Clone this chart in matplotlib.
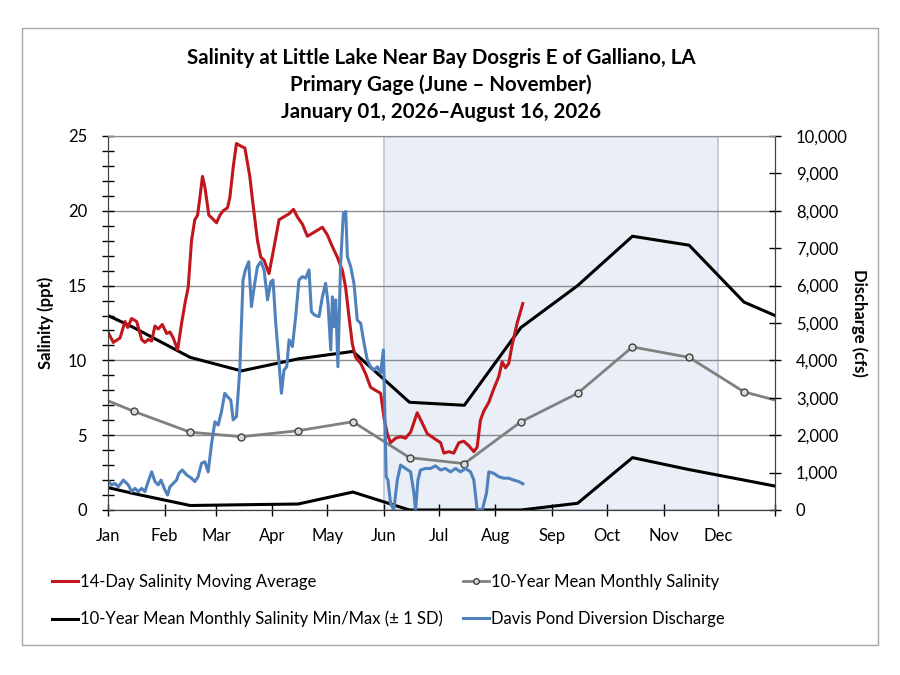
import matplotlib.pyplot as plt
from matplotlib.patches import Rectangle
from matplotlib.ticker import MultipleLocator, FuncFormatter
from matplotlib.lines import Line2D

plt.rcParams["font.family"] = ["Lato", "DejaVu Sans"]

# Month axis (day of year, 2026)
month_labels = ["Jan", "Feb", "Mar", "Apr", "May", "Jun",
                "Jul", "Aug", "Sep", "Oct", "Nov", "Dec"]
month_starts = [0, 31, 59, 90, 120, 151, 181, 212, 243, 273, 304, 334]
year_end = 365

# 10-year monthly statistics (Jan 1, mid-months, Dec 31)
stat_days = [0, 14, 45, 73, 104, 134, 165, 195, 226, 257, 287, 318, 348, 365]
mean_salinity = [7.3, 6.6, 5.2, 4.9, 5.3, 5.9, 3.5, 3.1, 5.9, 7.8, 10.9, 10.2, 7.9, 7.35]
max_salinity = [13.0, 12.2, 10.2, 9.3, 10.1, 10.6, 7.2, 7.0, 12.2, 15.0, 18.3, 17.7, 13.9, 13.0]
min_salinity = [1.5, 1.1, 0.3, 0.35, 0.4, 1.2, 0.0, 0.0, 0.0, 0.45, 3.5, 2.7, 2.0, 1.6]

# 14-day salinity moving average (ppt)
sal_days = [0, 2.9, 6.6, 9.3, 10.8, 12.9, 15.7, 18.4, 20.2, 22.0, 23.9, 25.7, 27.5,
            29.7, 32.1, 33.9, 35.7, 38.1, 40.3, 42.1, 43.9, 45.7, 47.5, 49.0, 50.3,
            51.7, 53.0, 55.2, 57.0, 59.4, 61.2, 63.0, 65.4, 66.7, 68.5, 70.3, 73.1,
            74.9, 77.6, 79.0, 80.5, 81.8, 83.6, 85.4, 88.1, 90.9, 93.6, 96.3, 99.1,
            101.5, 103.6, 106.4, 109.1, 111.9, 114.6, 117.3, 120.0, 122.8, 125.5,
            128.3, 130.0, 131.9, 133.7, 135.5, 138.3, 141.0, 143.7, 146.4, 149.2,
            151.0, 152.8, 154.6, 157.4, 160.1, 162.8, 165.6, 169.2, 172.0, 174.7,
            178.3, 182.0, 183.8, 186.5, 189.2, 192.0, 194.7, 197.4, 200.2, 202.0,
            203.8, 205.6, 208.4, 211.1, 213.8, 215.7, 217.5, 219.3, 221.1, 223.9, 227.0]
salinity = [11.9, 11.2, 11.5, 12.6, 12.2, 12.8, 12.6, 11.4, 11.2, 11.4, 11.3, 12.3, 12.1,
            12.4, 11.8, 11.9, 11.5, 10.7, 12.5, 13.8, 14.9, 18.0, 19.4, 19.7, 20.9,
            22.3, 21.6, 19.7, 19.5, 19.2, 19.7, 20.0, 20.2, 20.9, 22.9, 24.5, 24.3,
            24.2, 22.3, 20.8, 19.3, 18.0, 16.9, 16.7, 15.8, 17.6, 19.4, 19.6, 19.8,
            20.1, 19.6, 19.1, 18.3, 18.5, 18.7, 18.9, 18.4, 17.6, 16.9,
            16.0, 14.9, 12.9, 11.1, 10.2, 9.8, 9.1, 8.2, 8.0, 7.8,
            6.2, 5.1, 4.5, 4.8, 4.9, 4.8, 5.2, 6.5, 5.8, 5.1,
            4.8, 4.5, 3.8, 3.9, 3.8, 4.5, 4.6, 4.3, 3.9, 4.2,
            6.0, 6.6, 7.2, 8.1, 8.9, 9.9, 9.5, 9.8, 11.0, 12.5, 13.8]

# Davis Pond diversion discharge (cfs)
q_days = [0.2, 2.0, 3.8, 5.6, 8.4, 11.1, 13.0, 14.8, 16.6, 18.4, 20.2, 22.0, 23.9,
          25.7, 27.5, 29.0, 31.1, 32.6, 33.9, 35.7, 37.5, 38.8, 40.6, 43.0, 45.7,
          47.5, 49.3, 51.2, 53.0, 54.8, 56.7, 58.5, 60.3, 62.1, 63.9, 65.4, 67.2,
          68.5, 70.3, 72.1, 73.9, 75.2, 77.0, 78.5, 80.3, 81.8, 83.6, 85.4, 87.3,
          89.1, 90.3, 91.8, 93.6, 94.9, 96.3, 97.8, 99.1, 100.9, 102.7, 104.5,
          106.4, 108.2, 110.0, 111.3, 113.1, 115.5, 117.3, 119.1, 120.4, 121.9,
          122.8, 123.7, 124.6, 125.8, 127.3, 128.8, 130.1, 131.0, 132.8, 134.6,
          136.4, 138.3, 140.1, 141.9, 143.7, 145.5, 147.4, 149.2, 150.7, 151.5,
          152.2, 153.2, 154.6, 156.4, 158.3, 160.1, 162.8, 165.6, 167.4, 168.3,
          169.6, 171.0, 173.8, 176.5, 179.2, 182.0, 184.7, 187.4, 190.2, 192.9,
          195.6, 198.4, 200.2, 202.0, 204.8, 207.1, 208.4, 211.1, 213.8, 216.6,
          219.3, 222.0, 224.8, 227.0]
discharge = [760, 670, 710, 620, 800, 670, 490, 580, 490, 580, 490, 760, 1020,
             760, 670, 800, 540, 400, 620, 710, 800, 980, 1070, 940, 850,
             760, 890, 1250, 1290, 1020, 1780, 2360, 2270, 2630, 3120, 3030, 2940,
             2410, 2500, 3740, 6150, 6420, 6640, 5440, 6060, 6510, 6640, 6420, 5620,
             6100, 6150, 4990, 3920, 3120, 3740, 3830, 4550, 4370, 5170, 6150,
             6240, 6200, 6420, 5300, 5210, 5170, 5700, 6060, 5530, 4280,
             5700, 4900, 5620, 3830, 6600, 7930, 7980, 6770, 6510, 6060,
             5080, 4990, 4460, 4010, 3830, 3740, 3830, 3660, 4280, 2590,
             890, 800, 180, 0, 800, 1200, 1110, 1020, 450, 0,
             800, 1070, 1110, 1110, 1180, 1070, 1110, 1020, 1110, 1020,
             1110, 1020, 800, 0, 0, 450, 1020, 980, 890, 850,
             850, 800, 760, 700]

# Primary gage season (Jun 1 - Dec 1)
season_start = 151
season_end = 334

fig = plt.figure(figsize=(9, 6.75), dpi=100)
ax = fig.add_axes([108 / 900, 1 - 510 / 675, 667 / 900, 374 / 675])
ax2 = ax.twinx()

# Shaded season
ax.axvspan(season_start, season_end, facecolor="#e9eef7", edgecolor="#b9c6d9",
           linewidth=1.2, zorder=0)

# Salinity lines
ax.plot(stat_days, max_salinity, color="black", lw=2.2, zorder=3)
ax.plot(stat_days, min_salinity, color="black", lw=2.2, zorder=3)
ax.plot(stat_days, mean_salinity, color="#808080", lw=2.0, zorder=3,
        marker="o", markevery=list(range(1, 13)), markersize=5,
        markerfacecolor="#d9d9d9", markeredgecolor="#404040", markeredgewidth=1)
ax.plot(sal_days, salinity, color="#c0161c", lw=2.2, zorder=4)

# Discharge line
ax2.plot(q_days, discharge, color="#4f81bd", lw=2.2)

ax.set_xlim(0, year_end)
ax.set_ylim(0, 25)
ax2.set_ylim(0, 10000)

ax.set_xticks(month_starts + [year_end])
ax.set_xticklabels(month_labels + [""])
ax.yaxis.set_major_locator(MultipleLocator(5))
ax.yaxis.set_minor_locator(MultipleLocator(1))
ax2.yaxis.set_major_locator(MultipleLocator(1000))
ax2.yaxis.set_major_formatter(FuncFormatter(lambda v, p: f"{int(v):,}"))

ax.grid(axis="y", color="#8c8c8c", lw=1)
ax.set_axisbelow(True)

ax.tick_params(axis="x", direction="inout", length=8, width=1, labelsize=12, pad=9)
ax.tick_params(axis="y", which="both", direction="inout", length=8, width=1,
               labelsize=12, pad=11)
ax2.tick_params(axis="y", direction="inout", length=8, width=1, labelsize=12, pad=11)

for a in (ax, ax2):
    a.spines["top"].set_color("#8c8c8c")
    a.spines["left"].set_color("#404040")
    a.spines["right"].set_color("#404040")
    a.spines["bottom"].set_color("#404040")

ax.set_ylabel("Salinity (ppt)", fontsize=12, fontweight="bold", labelpad=10)
ax2.set_ylabel("Discharge (cfs)", fontsize=12, fontweight="bold", rotation=270,
               labelpad=14)

# Title
title_lines = ["Salinity at Little Lake Near Bay Dosgris E of Galliano, LA",
               "Primary Gage (June \u2013 November)",
               "January 01, 2026\u2013August 16, 2026"]
for i, line in enumerate(title_lines):
    fig.text(441 / 900, 1 - (58 + 27 * i) / 675, line, ha="center", va="center",
             fontsize=14.8, fontweight="bold")

# Legends
h_red = Line2D([], [], color="#c0161c", lw=2.2)
h_black = Line2D([], [], color="black", lw=2.2)
h_gray = Line2D([], [], color="#808080", lw=2.0, marker="o", markersize=4,
                markerfacecolor="#d9d9d9", markeredgecolor="#404040")
h_blue = Line2D([], [], color="#4f81bd", lw=2.2)

leg_kw = dict(frameon=False, fontsize=12, handlelength=1.55, handletextpad=0.12,
              labelspacing=1.25, borderpad=0, borderaxespad=0, loc="upper left")
leg1 = fig.legend([h_red, h_black],
                  ["14-Day Salinity Moving Average",
                   "10-Year Mean Monthly Salinity Min/Max (\u00b1 1 SD)"],
                  bbox_to_anchor=(52 / 900, 1 - 574 / 675), **leg_kw)
leg2 = fig.legend([h_gray, h_blue],
                  ["10-Year Mean Monthly Salinity",
                   "Davis Pond Diversion Discharge"],
                  bbox_to_anchor=(463 / 900, 1 - 574 / 675), **leg_kw)

# Outer border
fig.patches.append(Rectangle((22 / 900, 1 - 645 / 675), 856 / 900, 617 / 675,
                             transform=fig.transFigure, fill=False,
                             edgecolor="#a6a6a6", lw=1))

fig.savefig("out.png", dpi=100)
